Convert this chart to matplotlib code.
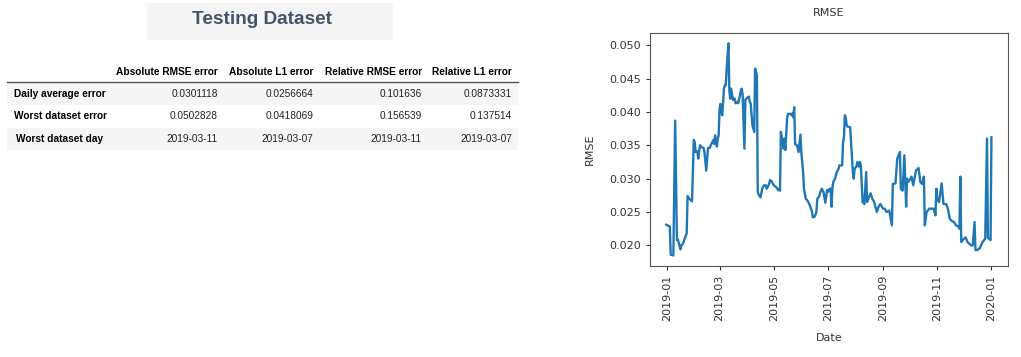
#!/usr/bin/env python3
"""Testing dataset error summary table and daily RMSE line chart."""

import matplotlib

matplotlib.use("Agg")
import matplotlib.dates as mdates
import matplotlib.pyplot as plt
import numpy as np
import pandas as pd
from matplotlib.patches import Rectangle

W, H = 1021, 357

# --- table data ---
TABLE_TITLE = "Testing Dataset"
COLUMNS = ["Absolute RMSE error", "Absolute L1 error", "Relative RMSE error", "Relative L1 error"]
ROWS = ["Daily average error", "Worst dataset error", "Worst dataset day"]
DAILY_AVG = ["0.0301118", "0.0256664", "0.101636", "0.0873331"]
WORST_ERR = ["0.0502828", "0.0418069", "0.156539", "0.137514"]
WORST_DAY = ["2019-03-11", "2019-03-07", "2019-03-11", "2019-03-07"]

# --- RMSE series (day offset from 2019-01-01, value) ---
DAY = [
    -1, 2, 3, 4, 7, 9, 11, 12, 15, 16, 18, 19, 21, 22, 23, 25, 28, 30, 31, 32,
    34, 35, 37, 39, 41, 42, 44, 45, 46, 48, 49, 51, 52, 53, 54, 55, 56, 57, 58, 59,
    60, 61, 62, 64, 65, 66, 67, 69, 70, 71, 72, 74, 76, 77, 79, 80, 82, 83, 84, 85,
    87, 88, 89, 91, 92, 93, 94, 96, 97, 98, 99, 100, 101, 102, 103, 105, 107, 109, 111, 112,
    114, 116, 118, 120, 123, 125, 127, 128, 130, 131, 132, 133, 135, 136, 139, 140, 141, 142, 143, 144,
    146, 147, 148, 150, 151, 153, 154, 156, 158, 160, 162, 163, 164, 166, 168, 169, 171, 172, 174, 176,
    178, 180, 181, 183, 184, 185, 186, 187, 189, 190, 191, 193, 194, 197, 198, 199, 200, 201, 202, 203,
    206, 209, 210, 211, 213, 214, 216, 217, 218, 220, 222, 224, 225, 227, 229, 231, 233, 236, 238, 240,
    243, 245, 247, 250, 253, 254, 257, 259, 262, 263, 265, 267, 269, 270, 271, 273, 275, 277, 280, 283,
    285, 287, 289, 290, 292, 295, 300, 302, 303, 304, 306, 309, 311, 314, 316, 318, 320, 323, 325, 328,
    329, 330, 331, 334, 336, 338, 342, 344, 346, 347, 349, 352, 355, 358, 360, 361, 362, 364, 365,
]
RMSE = [
    0.0231, 0.0229, 0.0228, 0.0186, 0.0185, 0.0387, 0.0208, 0.0209, 0.0194, 0.0200,
    0.0203, 0.0207, 0.0215, 0.0218, 0.0274, 0.0270, 0.0266, 0.0358, 0.0355, 0.0340,
    0.0341, 0.0330, 0.0350, 0.0347, 0.0346, 0.0340, 0.0312, 0.0330, 0.0346, 0.0346,
    0.0350, 0.0355, 0.0358, 0.0352, 0.0365, 0.0355, 0.0348, 0.0360, 0.0365, 0.0405,
    0.0412, 0.0400, 0.0395, 0.0435, 0.0440, 0.0440, 0.0465, 0.0502828, 0.0432, 0.0420,
    0.0435, 0.0418, 0.0420, 0.0413, 0.0415, 0.0413, 0.0425, 0.0432, 0.0435, 0.0425,
    0.0345, 0.0418, 0.0420, 0.0422, 0.0423, 0.0415, 0.0413, 0.0380, 0.0375, 0.0370,
    0.0465, 0.0460, 0.0455, 0.0280, 0.0276, 0.0272, 0.0285, 0.0290, 0.0290, 0.0285,
    0.0290, 0.0298, 0.0295, 0.0290, 0.0287, 0.0283, 0.0282, 0.0370, 0.0355, 0.0345,
    0.0360, 0.0343, 0.0390, 0.0397, 0.0397, 0.0395, 0.0398, 0.0392, 0.0407, 0.0352,
    0.0350, 0.0345, 0.0340, 0.0366, 0.0340, 0.0310, 0.0285, 0.0270, 0.0267, 0.0262,
    0.0255, 0.0250, 0.0242, 0.0243, 0.0250, 0.0270, 0.0273, 0.0278, 0.0285, 0.0280,
    0.0264, 0.0283, 0.0280, 0.0285, 0.0285, 0.0258, 0.0286, 0.0295, 0.0300, 0.0305,
    0.0310, 0.0315, 0.0320, 0.0320, 0.0355, 0.0362, 0.0395, 0.0392, 0.0380, 0.0378,
    0.0377, 0.0310, 0.0300, 0.0315, 0.0318, 0.0325, 0.0318, 0.0325, 0.0320, 0.0265,
    0.0262, 0.0310, 0.0265, 0.0272, 0.0278, 0.0270, 0.0265, 0.0250, 0.0258, 0.0262,
    0.0255, 0.0255, 0.0250, 0.0252, 0.0230, 0.0292, 0.0293, 0.0330, 0.0340, 0.0285,
    0.0282, 0.0335, 0.0258, 0.0300, 0.0295, 0.0298, 0.0303, 0.0290, 0.0312, 0.0316,
    0.0295, 0.0292, 0.0303, 0.0230, 0.0250, 0.0255, 0.0255, 0.0245, 0.0285, 0.0270,
    0.0265, 0.0293, 0.0262, 0.0262, 0.0255, 0.0240, 0.0237, 0.0235, 0.0230, 0.0228,
    0.0225, 0.0303, 0.0205, 0.0210, 0.0212, 0.0205, 0.0200, 0.0200, 0.0235, 0.0193,
    0.0193, 0.0196, 0.0205, 0.0210, 0.0360, 0.0212, 0.0210, 0.0208, 0.0362,
]


def fx(x):
    return x / W


def fy(y):
    return 1 - y / H


def draw_table(fig):
    table_font = ["Liberation Sans", "DejaVu Sans"]
    # title box
    fig.patches.append(Rectangle((fx(147), fy(40)), fx(246), 37 / H, transform=fig.transFigure,
                                 facecolor="#f5f5f5", edgecolor="none"))
    fig.text(fx(262), fy(19.5), TABLE_TITLE, ha="center", va="center", fontsize=13.7,
             fontweight="bold", color="#44546b", family=table_font)

    col_right = [218, 313, 422, 512]
    row_y = [94, 116, 139]

    for x, name in zip(col_right, COLUMNS):
        fig.text(fx(x), fy(72), name, ha="right", va="center", fontsize=7.3, fontweight="bold",
                 color="black", family=table_font)
    fig.add_artist(plt.Line2D([fx(7), fx(518)], [fy(82), fy(82)], transform=fig.transFigure,
                              color="#555555", linewidth=1.0))

    for i, y in enumerate(row_y):
        if i % 2 == 0:
            fig.patches.append(Rectangle((fx(7), fy(y + 11)), fx(511), 22 / H,
                                         transform=fig.transFigure,
                                         facecolor="#f5f5f5", edgecolor="none"))
    for y, label, vals in zip(row_y, ROWS, [DAILY_AVG, WORST_ERR, WORST_DAY]):
        fig.text(fx(60), fy(y), label, ha="center", va="center", fontsize=7.3, fontweight="bold",
                 color="black", family=table_font)
        for x, v in zip(col_right, vals):
            fig.text(fx(x), fy(y), v, ha="right", va="center", fontsize=7.3, color="#222222",
                     family=table_font)


def main():
    fig = plt.figure(figsize=(W / 100, H / 100), dpi=100)
    draw_table(fig)

    dates = pd.Timestamp("2019-01-01") + pd.to_timedelta(DAY, unit="D")
    ax = fig.add_axes([fx(650), fy(266), fx(357.7), (266 - 32.7) / H])
    ax.plot(dates, np.array(RMSE), color="#1f77b4", linewidth=1.7)

    ax.set_title("RMSE", fontsize=8, color="#333333", pad=12)
    ax.set_ylabel("RMSE", fontsize=8, color="#333333", labelpad=10)
    ax.set_xlabel("Date", fontsize=8, color="#333333", labelpad=8)
    ax.xaxis.set_major_locator(mdates.MonthLocator(bymonth=[1, 3, 5, 7, 9, 11]))
    ax.xaxis.set_major_formatter(mdates.DateFormatter("%Y-%m"))
    ax.set_yticks([0.020, 0.025, 0.030, 0.035, 0.040, 0.045, 0.050])
    ax.yaxis.set_major_formatter(matplotlib.ticker.FormatStrFormatter("%.3f"))
    ax.tick_params(axis="both", labelsize=8, colors="#333333", length=3)
    ax.tick_params(axis="x", labelrotation=90)
    for s in ax.spines.values():
        s.set_color("#555555")

    fig.savefig("out.png", dpi=100)
    plt.close(fig)


if __name__ == "__main__":
    main()
